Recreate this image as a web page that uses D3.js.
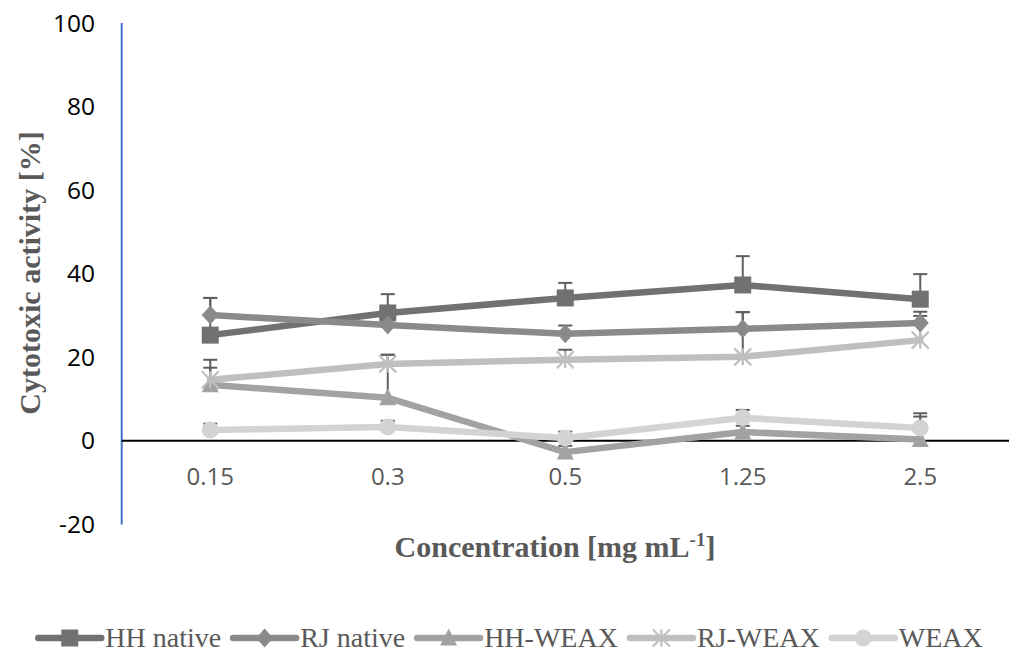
<!DOCTYPE html>
<html><head><meta charset="utf-8">
<script src="https://cdn.jsdelivr.net/npm/d3@7"></script>
<style>body{margin:0;background:#fff}svg{display:block}</style>
</head><body>
<svg id="c" width="1013" height="651"></svg>
<script>
const categories = ["0.15","0.3","0.5","1.25","2.5"];
const seriesNames = ["HH native","RJ native","HH-WEAX","RJ-WEAX","WEAX"];
const hhNative   = [25.3, 30.6, 34.2, 37.3, 33.9];
const rjNative   = [30.1, 27.7, 25.6, 26.8, 28.2];
const hhWeax     = [13.4, 10.3, -2.7, 2.1, 0.3];
const rjWeax     = [14.6, 18.4, 19.4, 20.1, 24.1];
const weax       = [2.6, 3.3, 0.7, 5.5, 3.1];
const hhNativeErr = [8.9, 4.5, 3.6, 6.9, 6.0];
const rjNativeErr = [4.1, 2.0, 2.0, 4.0, 2.7];
const hhWeaxErr   = [6.0, 10.3, 1.5, 1.5, 5.5];
const rjWeaxErr   = [2.9, 2.2, 2.4, 10.7, 5.8];
const weaxErr     = [1.5, 1.5, 1.5, 1.9, 3.5];
const yTicks = [-20, 0, 20, 40, 60, 80, 100];

const colors = ["#717171","#8a8a8a","#a2a2a2","#bfbfbf","#d3d3d3"];
const shapes = ["square","diamond","triangle","star","circle"];
const values = [hhNative, rjNative, hhWeax, rjWeax, weax];
const errs = [hhNativeErr, rjNativeErr, hhWeaxErr, rjWeaxErr, weaxErr];

const svg = d3.select("#c");
const x = d3.scaleBand().domain(categories).range([121.5, 1009]).padding(0);
const y = d3.scaleLinear().domain([-20, 100]).range([524.4, 23]);
const cx = c => x(c) + x.bandwidth()/2;

// y axis (blue line) and tick labels
svg.append("line").attr("x1",121.7).attr("x2",121.7).attr("y1",y(100)).attr("y2",y(-20))
  .attr("stroke","#4472c4").attr("stroke-width",2);
svg.append("g").selectAll("text").data(yTicks).join("text")
  .attr("x",95).attr("y",d=>y(d)).attr("dy","0.35em").attr("text-anchor","end")
  .attr("font-family","'Open Sans', sans-serif").attr("font-size",24.5).attr("fill","#000")
  .text(d=>d);

// zero line
svg.append("line").attr("x1",121.7).attr("x2",1009).attr("y1",y(0)).attr("y2",y(0))
  .attr("stroke","#000").attr("stroke-width",2);

// x tick labels
svg.append("g").selectAll("text").data(categories).join("text")
  .attr("x",d=>cx(d)).attr("y",477).attr("dy","0.35em").attr("text-anchor","middle")
  .attr("font-family","'Open Sans', sans-serif").attr("font-size",24).attr("fill","#595959")
  .text(d=>d);

// axis titles
const xt = svg.append("text").attr("x",555).attr("y",557).attr("text-anchor","middle")
  .attr("font-family","'Liberation Serif', 'Times New Roman', serif").attr("font-weight","bold")
  .attr("font-size",30).attr("fill","#595959");
xt.append("tspan").text("Concentration [mg mL");
xt.append("tspan").attr("font-size",19).attr("dy",-11).text("-1");
xt.append("tspan").attr("dy",11).text("]");

svg.append("text").attr("transform","translate(40,273) rotate(-90)").attr("text-anchor","middle")
  .attr("font-family","'Liberation Serif', 'Times New Roman', serif").attr("font-weight","bold")
  .attr("font-size",30).attr("fill","#595959").text("Cytotoxic activity [%]");

// marker drawing
function marker(g, shape, color, px, py){
  const s = 8.5;
  if(shape==="square") g.append("rect").attr("x",px-s).attr("y",py-s).attr("width",2*s).attr("height",2*s).attr("fill",color);
  else if(shape==="diamond") g.append("path").attr("d",`M${px},${py-s-1}L${px+s},${py}L${px},${py+s+1}L${px-s},${py}Z`).attr("fill",color);
  else if(shape==="triangle") g.append("path").attr("d",`M${px},${py-s-1}L${px+s},${py+s-1}L${px-s},${py+s-1}Z`).attr("fill",color);
  else if(shape==="circle") g.append("circle").attr("cx",px).attr("cy",py).attr("r",s).attr("fill",color);
  else if(shape==="star"){
    g.append("path").attr("d",`M${px-s},${py-s}L${px+s},${py+s}M${px-s},${py+s}L${px+s},${py-s}M${px},${py-s}L${px},${py+s}`)
      .attr("stroke",color).attr("stroke-width",2.2).attr("fill","none");
  }
}

const line = d3.line().x((d,i)=>cx(categories[i])).y(d=>y(d));
const plot = svg.append("g");
values.forEach((vals,si)=>{
  plot.append("path").datum(vals).attr("d",line).attr("fill","none")
    .attr("stroke",colors[si]).attr("stroke-width",6.5).attr("stroke-linejoin","round").attr("stroke-linecap","round");
});
// error bars (plus)
values.forEach((vals,si)=>{
  vals.forEach((v,i)=>{
    const px = cx(categories[i]), top = y(v+errs[si][i]);
    plot.append("line").attr("x1",px).attr("x2",px).attr("y1",y(v)).attr("y2",top).attr("stroke","#5f5f5f").attr("stroke-width",2);
    plot.append("line").attr("x1",px-7).attr("x2",px+7).attr("y1",top).attr("y2",top).attr("stroke","#5f5f5f").attr("stroke-width",2);
  });
});
values.forEach((vals,si)=>{
  vals.forEach((v,i)=> marker(plot, shapes[si], colors[si], cx(categories[i]), y(v)));
});

// legend
const lg = svg.append("g");
let xpos = 0;
const items = [];
seriesNames.forEach((n,si)=>{
  const g = lg.append("g");
  g.append("line").attr("x1",0).attr("x2",63).attr("y1",0).attr("y2",0).attr("stroke",colors[si]).attr("stroke-width",6.5).attr("stroke-linecap","round");
  marker(g, shapes[si], colors[si], 31.5, 0);
  const t = g.append("text").attr("x",67).attr("y",8.5).attr("font-family","'Liberation Serif', 'Times New Roman', serif")
    .attr("font-size",28).attr("fill","#595959").text(n);
  const w = 67 + t.node().getComputedTextLength();
  items.push({g,w});
});
const gap = 12;
const total = d3.sum(items, d=>d.w) + gap*(items.length-1);
xpos = 510.5 - total/2;
items.forEach(it=>{ it.g.attr("transform",`translate(${xpos},638)`); xpos += it.w + gap; });
</script>
</body></html>
